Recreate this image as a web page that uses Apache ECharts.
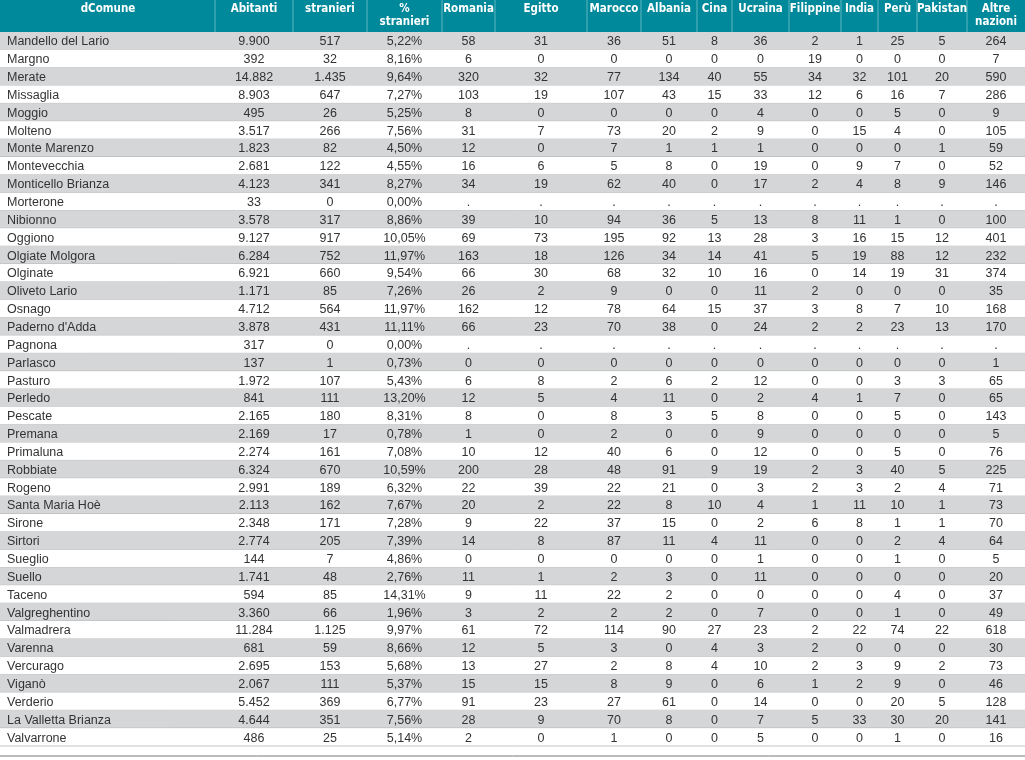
<!DOCTYPE html>
<html>
<head>
<meta charset="utf-8">
<script src="https://cdn.jsdelivr.net/npm/echarts@6/dist/echarts.min.js"></script>
<style>
  html, body { margin: 0; padding: 0; background: #fff; }
  #table { width: 1025px; height: 760px; }
</style>
</head>
<body>
<div id="table"></div>
<script>
var comuni = ['Mandello del Lario', 'Margno', 'Merate', 'Missaglia', 'Moggio', 'Molteno', 'Monte Marenzo',
    'Montevecchia', 'Monticello Brianza', 'Morterone', 'Nibionno', 'Oggiono', 'Olgiate Molgora', 'Olginate',
    'Oliveto Lario', 'Osnago', "Paderno d'Adda", 'Pagnona', 'Parlasco', 'Pasturo', 'Perledo', 'Pescate',
    'Premana', 'Primaluna', 'Robbiate', 'Rogeno', 'Santa Maria Hoè', 'Sirone', 'Sirtori', 'Sueglio', 'Suello',
    'Taceno', 'Valgreghentino', 'Valmadrera', 'Varenna', 'Vercurago', 'Viganò', 'Verderio',
    'La Valletta Brianza', 'Valvarrone'];
var abitanti = [9900, 392, 14882, 8903, 495, 3517, 1823, 2681, 4123, 33, 3578, 9127, 6284, 6921, 1171, 4712,
    3878, 317, 137, 1972, 841, 2165, 2169, 2274, 6324, 2991, 2113, 2348, 2774, 144, 1741, 594, 3360, 11284,
    681, 2695, 2067, 5452, 4644, 486];
var stranieri = [517, 32, 1435, 647, 26, 266, 82, 122, 341, 0, 317, 917, 752, 660, 85, 564, 431, 0, 1, 107,
    111, 180, 17, 161, 670, 189, 162, 171, 205, 7, 48, 85, 66, 1125, 59, 153, 111, 369, 351, 25];
var pctStranieri = [5.22, 8.16, 9.64, 7.27, 5.25, 7.56, 4.50, 4.55, 8.27, 0.00, 8.86, 10.05, 11.97, 9.54,
    7.26, 11.97, 11.11, 0.00, 0.73, 5.43, 13.20, 8.31, 0.78, 7.08, 10.59, 6.32, 7.67, 7.28, 7.39, 4.86, 2.76,
    14.31, 1.96, 9.97, 8.66, 5.68, 5.37, 6.77, 7.56, 5.14];
var nazioni = ['Romania', 'Egitto', 'Marocco', 'Albania', 'Cina', 'Ucraina', 'Filippine', 'India', 'Perù',
    'Pakistan', 'Altre\nnazioni'];
// one row per comune, one value per nazione (null = ".")
var perNazione = [
    [58, 31, 36, 51, 8, 36, 2, 1, 25, 5, 264],
    [6, 0, 0, 0, 0, 0, 19, 0, 0, 0, 7],
    [320, 32, 77, 134, 40, 55, 34, 32, 101, 20, 590],
    [103, 19, 107, 43, 15, 33, 12, 6, 16, 7, 286],
    [8, 0, 0, 0, 0, 4, 0, 0, 5, 0, 9],
    [31, 7, 73, 20, 2, 9, 0, 15, 4, 0, 105],
    [12, 0, 7, 1, 1, 1, 0, 0, 0, 1, 59],
    [16, 6, 5, 8, 0, 19, 0, 9, 7, 0, 52],
    [34, 19, 62, 40, 0, 17, 2, 4, 8, 9, 146],
    [null, null, null, null, null, null, null, null, null, null, null],
    [39, 10, 94, 36, 5, 13, 8, 11, 1, 0, 100],
    [69, 73, 195, 92, 13, 28, 3, 16, 15, 12, 401],
    [163, 18, 126, 34, 14, 41, 5, 19, 88, 12, 232],
    [66, 30, 68, 32, 10, 16, 0, 14, 19, 31, 374],
    [26, 2, 9, 0, 0, 11, 2, 0, 0, 0, 35],
    [162, 12, 78, 64, 15, 37, 3, 8, 7, 10, 168],
    [66, 23, 70, 38, 0, 24, 2, 2, 23, 13, 170],
    [null, null, null, null, null, null, null, null, null, null, null],
    [0, 0, 0, 0, 0, 0, 0, 0, 0, 0, 1],
    [6, 8, 2, 6, 2, 12, 0, 0, 3, 3, 65],
    [12, 5, 4, 11, 0, 2, 4, 1, 7, 0, 65],
    [8, 0, 8, 3, 5, 8, 0, 0, 5, 0, 143],
    [1, 0, 2, 0, 0, 9, 0, 0, 0, 0, 5],
    [10, 12, 40, 6, 0, 12, 0, 0, 5, 0, 76],
    [200, 28, 48, 91, 9, 19, 2, 3, 40, 5, 225],
    [22, 39, 22, 21, 0, 3, 2, 3, 2, 4, 71],
    [20, 2, 22, 8, 10, 4, 1, 11, 10, 1, 73],
    [9, 22, 37, 15, 0, 2, 6, 8, 1, 1, 70],
    [14, 8, 87, 11, 4, 11, 0, 0, 2, 4, 64],
    [0, 0, 0, 0, 0, 1, 0, 0, 1, 0, 5],
    [11, 1, 2, 3, 0, 11, 0, 0, 0, 0, 20],
    [9, 11, 22, 2, 0, 0, 0, 0, 4, 0, 37],
    [3, 2, 2, 2, 0, 7, 0, 0, 1, 0, 49],
    [61, 72, 114, 90, 27, 23, 2, 22, 74, 22, 618],
    [12, 5, 3, 0, 4, 3, 2, 0, 0, 0, 30],
    [13, 27, 2, 8, 4, 10, 2, 3, 9, 2, 73],
    [15, 15, 8, 9, 0, 6, 1, 2, 9, 0, 46],
    [91, 23, 27, 61, 0, 14, 0, 0, 20, 5, 128],
    [28, 9, 70, 8, 0, 7, 5, 33, 30, 20, 141],
    [2, 0, 1, 0, 0, 5, 0, 0, 1, 0, 16]
];
var intestazioni = ['dComune', 'Abitanti', 'stranieri', '%\nstranieri'].concat(nazioni);

// column edges in px
var edges = [0, 215, 293, 367, 442, 495, 587, 641, 697, 732, 789, 841, 878, 917, 967, 1025];
var headH = 32, rowH = 17.85;

function fmtInt(n) {
    return String(n).replace(/\B(?=(\d{3})+(?!\d))/g, '.');
}
function fmtPct(p) {
    return p.toFixed(2).replace('.', ',') + '%';
}

var elements = [];
elements.push({ type: 'rect', shape: { x: 0, y: 0, width: 1025, height: headH }, style: { fill: '#00899a' } });
for (var c = 1; c < edges.length - 1; c++) {
    elements.push({ type: 'line', shape: { x1: edges[c], y1: 0, x2: edges[c], y2: headH },
        style: { stroke: '#5fb6c0', lineWidth: 1 } });
}
intestazioni.forEach(function (h, c) {
    var cx = (edges[c] + edges[c + 1]) / 2;
    if (c === 0) cx = 108;
    elements.push({ type: 'text', x: cx, y: 3, style: {
        text: h, fill: '#fff', align: 'center', verticalAlign: 'top',
        font: 'bold 11.5px "DejaVu Sans Condensed", "DejaVu Sans", sans-serif', lineHeight: 13 } });
});

comuni.forEach(function (nome, r) {
    var y = headH + r * rowH;
    elements.push({ type: 'rect', shape: { x: 0, y: y, width: 1025, height: rowH },
        style: { fill: r % 2 === 0 ? '#d5d6d8' : '#ffffff' } });
    elements.push({ type: 'line', shape: { x1: 0, y1: y + rowH, x2: 1025, y2: y + rowH },
        style: { stroke: '#9a9c9f', lineWidth: 0.6 } });
    var celle = [fmtInt(abitanti[r]), fmtInt(stranieri[r]), fmtPct(pctStranieri[r])].concat(
        perNazione[r].map(function (v) { return v === null ? '.' : String(v); }));
    var font = '12.5px "Liberation Sans", Arial, sans-serif';
    elements.push({ type: 'text', x: 7, y: y + rowH / 2 + 1, style: {
        text: nome, fill: '#333', align: 'left', verticalAlign: 'middle', font: font } });
    celle.forEach(function (t, i) {
        var c = i + 1;
        elements.push({ type: 'text', x: (edges[c] + edges[c + 1]) / 2, y: y + rowH / 2 + 1, style: {
            text: t, fill: '#333', align: 'center', verticalAlign: 'middle', font: font } });
    });
});
elements.push({ type: 'line', shape: { x1: 0, y1: 756, x2: 1025, y2: 756 },
    style: { stroke: '#777', lineWidth: 1 } });

var myChart = echarts.init(document.getElementById('table'));
myChart.setOption({ animation: false, graphic: { elements: elements } });
</script>
</body>
</html>
